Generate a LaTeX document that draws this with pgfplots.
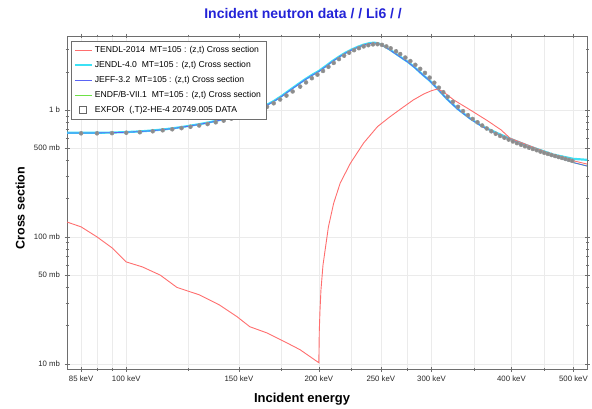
\documentclass[border=0pt]{standalone}
\usepackage{fontspec}
\setmainfont{Liberation Sans}
\usepackage{pgfplots}
\pgfplotsset{compat=1.18}
\definecolor{ttl}{RGB}{35,35,215}
\definecolor{tendl}{RGB}{255,110,110}
\definecolor{jendl}{RGB}{60,225,245}
\definecolor{jeff}{RGB}{90,100,245}
\definecolor{endf}{RGB}{110,225,70}
\definecolor{axcol}{RGB}{110,110,110}
\begin{document}
\begin{tikzpicture}
\useasboundingbox (-67pt,-39pt) rectangle (525pt,369pt);
\begin{axis}[
  at={(0,0)}, anchor=south west,
  scale only axis, width=520pt, height=333pt,
  xmode=log, ymode=log, log basis x=10, log basis y=10,
  xmin=80.8, xmax=525, ymin=9.1, ymax=3830,
  xtick={85,100,150,200,250,300,400,500},
  xticklabels={85 keV,100 keV,150 keV,200 keV,250 keV,300 keV,400 keV,500 keV},
  minor xtick={90,95,125,175,225,275,350,450},
  ytick={10,50,100,500,1000},
  yticklabels={10 mb,50 mb,100 mb,500 mb,1 b},
  minor ytick={20,30,40,60,70,80,90,200,300,400,600,700,800,900,2000,3000},
  tick label style={font=\fontsize{7.8}{9}\selectfont, color=black!85},
  xticklabel style={yshift=-1pt},
  yticklabel style={xshift=-1pt},
  tick align=center, major tick length=5pt, minor tick length=3pt,
  every tick/.style={axcol, line width=0.6pt},
  axis line style={axcol, line width=0.8pt},
  xmajorgrids, xminorgrids, ymajorgrids,
  major grid style={black!8, line width=0.6pt},
  minor grid style={black!8, line width=0.6pt},
  xlabel={Incident energy}, ylabel={Cross section},
  xlabel style={font=\bfseries\fontsize{13}{15}\selectfont, at={(axis description cs:0.452,-0.09)}, anchor=center},
  ylabel style={font=\bfseries\fontsize{12.5}{15}\selectfont, at={(axis description cs:-0.09,0.483)}, anchor=center},
  title={Incident neutron data / / Li6 / /},
  title style={font=\bfseries\fontsize{14}{16}\selectfont, text=ttl, at={(axis description cs:0.454,1)}, anchor=center, yshift=16pt},
  legend style={at={(axis description cs:0.007,0.985)}, anchor=north west, draw=axcol, fill=white,
    font=\fontsize{8.6}{10}\selectfont, row sep=3.3pt, inner sep=3pt,
    legend cell align=left},
  legend image code/.code={\draw (0cm,0cm) -- (0.6cm,0cm);},
]
% legend entries
\addlegendimage{tendl, line width=1pt}
\addlegendentry{TENDL-2014\ \ MT=105 : (z,t) Cross section}
\addlegendimage{jendl, line width=2pt}
\addlegendentry{JENDL-4.0\ \ MT=105 : (z,t) Cross section}
\addlegendimage{jeff, line width=1.2pt}
\addlegendentry{JEFF-3.2\ \ MT=105 : (z,t) Cross section}
\addlegendimage{endf, line width=1.2pt}
\addlegendentry{ENDF/B-VII.1\ \ MT=105 : (z,t) Cross section}
\addlegendimage{legend image code/.code={\draw[black!60, fill=white, line width=0.6pt] (0.16cm,-0.12cm) rectangle (0.4cm,0.12cm);}}
\addlegendentry{EXFOR\ \ (,T)2-HE-4 20749.005 DATA}

% ENDF/B-VII.1
\addplot[endf, line width=0.9pt, forget plot] coordinates {
(80.8,660) (85,660) (90,660) (95,662) (100,668) (105,676) (110,688) (115,703) (120,722) (125,745)
(130,770) (135,798) (140,830) (145,865) (150,905) (155,950) (160,1005) (165,1075) (170,1165)
(175,1280) (180,1420) (185,1565) (190,1720) (195,1870) (200,2010) (205,2200) (210,2410) (215,2610)
(220,2800) (225,2970) (230,3120) (235,3250) (240,3340) (244,3370) (248,3320) (252,3200) (258,2980)
(265,2720) (270,2550) (275,2400) (282,2170) (291,1880) (298,1700) (306,1480) (317,1220) (330,1010)
(345,850) (360,740) (380,650) (400,580) (430,500) (465,430) (500,385) (525,362)};
% JENDL-4.0
\addplot[jendl, line width=2.2pt, forget plot] coordinates {
(80.8,662) (85,662) (90,662) (95,664) (100,670) (105,678) (110,690) (115,705) (120,725) (125,748)
(130,773) (135,801) (140,834) (145,869) (150,910) (155,956) (160,1012) (165,1083) (170,1175)
(175,1292) (180,1433) (185,1580) (190,1735) (195,1887) (200,2030) (205,2220) (210,2430) (215,2630)
(220,2825) (225,2995) (230,3145) (235,3275) (240,3365) (244,3395) (248,3345) (252,3220) (258,3000)
(265,2735) (270,2565) (275,2410) (282,2180) (291,1885) (298,1705) (306,1485) (317,1225) (330,1015)
(345,855) (360,745) (380,657) (400,588) (430,510) (465,445) (500,412) (525,405)};
% JEFF-3.2
\addplot[jeff, line width=0.8pt, forget plot] coordinates {
(80.8,660) (85,660) (90,660) (95,662) (100,668) (105,676) (110,688) (115,703) (120,722) (125,745)
(130,770) (135,798) (140,830) (145,865) (150,905) (155,950) (160,1005) (165,1075) (170,1165)
(175,1280) (180,1420) (185,1565) (190,1720) (195,1870) (200,2010) (205,2200) (210,2410) (215,2610)
(220,2800) (225,2970) (230,3120) (235,3250) (240,3340) (244,3370) (248,3320) (252,3200) (258,2980)
(265,2720) (270,2550) (275,2400) (282,2170) (291,1880) (298,1700) (306,1480) (317,1220) (330,1010)
(345,850) (360,740) (380,650) (400,580) (430,500) (465,430) (500,385) (525,362)};
% TENDL-2014
\addplot[tendl, line width=0.9pt, forget plot] coordinates {
(80.8,131) (85,120) (90,100) (95,82) (100,63.5) (106,58) (113,50) (120,40) (130,35) (140,29)
(149,23.5) (156,19.6) (166,17.5) (177,14.9) (187,12.9) (200,10.2)
(200.3,18) (200.8,26) (201.5,38) (203,60) (205,85) (207,120) (211,185) (216,266) (224,380)
(235,550) (247,740) (258,880) (270,1040) (281,1200) (292,1340) (300,1420) (306,1460) (312,1410)
(325,1200) (345,1000) (366,830) (385,700) (398,600) (430,515) (465,442) (500,398) (525,375)};
% EXFOR data
\addplot[only marks, mark=*, mark size=2.0pt, mark options={fill=black!45, draw=black!40, line width=0.5pt},
  error bars/.cd, y dir=both, y fixed relative=0.035, error mark=none, error bar style={black!65, line width=0.6pt}]
 coordinates {
(85,655) (90,655) (95,657) (100,662) (105,668) (110,680) (114,692) (118,705) (122,720) (126,738)
(130,755) (134,775) (138,800) (142,825) (146,855) (150,885) (154,920) (158,960) (162,1005) (166,1060)
(170,1130) (174,1210) (178,1300) (182,1400) (187,1530) (191,1650) (195,1780) (199,1900) (203,2030)
(207,2190) (211,2350) (215,2520) (219,2680) (223,2830) (227,2960) (231,3070) (235,3170) (239,3240)
(243,3290) (247,3300) (251,3260) (255,3170) (259,3060) (264,2900) (268,2760) (273,2590) (278,2430)
(283,2270) (288,2110) (293,1960) (298,1800) (303,1640) (308,1500) (313,1380) (318,1270) (324,1160)
(330,1060) (336,980) (342,910) (348,850) (354,800) (360,755) (366,715) (372,680) (378,650) (384,625)
(390,605) (396,585) (402,565) (408,548) (414,532) (420,518) (426,505) (432,493) (438,482) (444,470)
(450,460) (456,451) (462,442) (468,434) (474,426) (480,419) (486,412) (492,405) (498,398)};
\end{axis}
\end{tikzpicture}
\end{document}
